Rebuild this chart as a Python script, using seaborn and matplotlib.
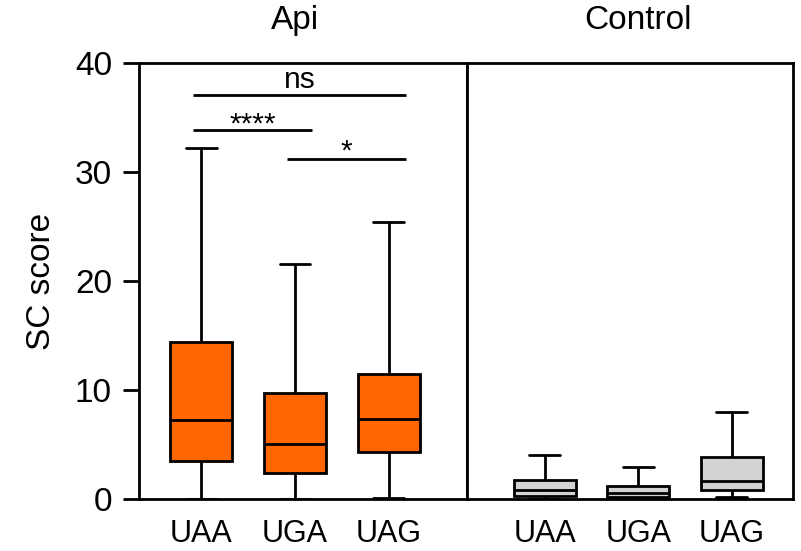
import matplotlib
matplotlib.use("Agg")
import matplotlib.pyplot as plt
import matplotlib.transforms as mtransforms
import pandas as pd
import seaborn as sns

# Five-number summaries (min, Q1, median, Q3, max) of the SC score per stop codon
codons = ["UAA", "UGA", "UAG"]
groups = ["Api", "Control"]
api_uaa = [0.0, 3.5, 7.25, 14.4, 32.2]
api_uga = [0.0, 2.4, 5.05, 9.75, 21.6]
api_uag = [0.1, 4.28, 7.34, 11.47, 25.45]
ctrl_uaa = [0.0, 0.26, 0.84, 1.7, 4.08]
ctrl_uga = [0.0, 0.2, 0.57, 1.15, 2.95]
ctrl_uag = [0.14, 0.78, 1.67, 3.87, 7.96]

# Significance brackets for the Api panel: (left codon, right codon, bar height, label height, label)
comparisons = [
    (0, 2, 37.04, 37.68, "ns"),
    (0, 1, 33.85, 33.6, "****"),
    (1, 2, 31.2, 31.12, "*"),
]

rows = []
for grp, series in zip(groups, [[api_uaa, api_uga, api_uag], [ctrl_uaa, ctrl_uga, ctrl_uag]]):
    for codon, vals in zip(codons, series):
        for v in vals:
            rows.append({"group": grp, "codon": codon, "score": v})
df = pd.DataFrame(rows)

sns.set_theme(style="ticks")
plt.rcParams["font.family"] = ["Liberation Sans", "DejaVu Sans"]
plt.rcParams["text.color"] = "black"
plt.rcParams["axes.labelcolor"] = "black"
plt.rcParams["xtick.color"] = "black"
plt.rcParams["ytick.color"] = "black"
FS_X = 22
FS_Y = 24
FS_TITLE = 24
FS_NOTE = 21.5
LW = 2.0

fig = plt.figure(figsize=(8.01, 5.51), dpi=100)
W, H = 801, 551
ax_api = fig.add_axes([139 / W, 52 / H, 328 / W, 436 / H])
ax_ctl = fig.add_axes([467 / W, 52 / H, 326 / W, 436 / H])

fills = {"Api": "#FF6600", "Control": "#D3D3D3"}
xlims = {"Api": (-0.665, 2.836), "Control": (-0.832, 2.654)}

for ax, grp in zip([ax_api, ax_ctl], groups):
    sns.boxplot(
        data=df[df["group"] == grp], x="codon", y="score", order=codons,
        whis=(0, 100), width=0.66, color=fills[grp], linecolor="black",
        linewidth=LW, saturation=1, showfliers=False, ax=ax,
    )
    ax.set_xlim(*xlims[grp])
    ax.set_ylim(0, 40)
    ax.set_xlabel("")
    ax.set_ylabel("")
    for side in ["left", "right", "top", "bottom"]:
        ax.spines[side].set_visible(True)
        ax.spines[side].set_linewidth(LW)
        ax.spines[side].set_color("black")
    ax.tick_params(axis="x", length=0, pad=14.5, labelsize=FS_X, labelcolor="black")
    ax.tick_params(axis="y", length=11.5, width=LW, pad=8, labelsize=FS_Y, labelcolor="black")
    trans = mtransforms.blended_transform_factory(ax.transData, ax.transAxes)
    ax.text(1, 1.0773, grp, transform=trans, ha="center", va="baseline",
            fontsize=FS_TITLE, color="black")

ax_api.set_yticks([0, 10, 20, 30, 40])
ax_ctl.set_yticks([])
ax_api.set_ylabel("SC score", fontsize=FS_Y, color="black")
ax_api.yaxis.set_label_coords(-0.25, 0.5)

for i, j, h, th, label in comparisons:
    x0, x1 = i - 0.09, j + 0.185
    ax_api.plot([x0, x1], [h, h], color="black", lw=LW, solid_capstyle="butt", clip_on=False)
    ax_api.text((x0 + x1) / 2, th, label, ha="center", va="baseline",
                fontsize=FS_NOTE, color="black")

fig.savefig("out.png", dpi=100)
